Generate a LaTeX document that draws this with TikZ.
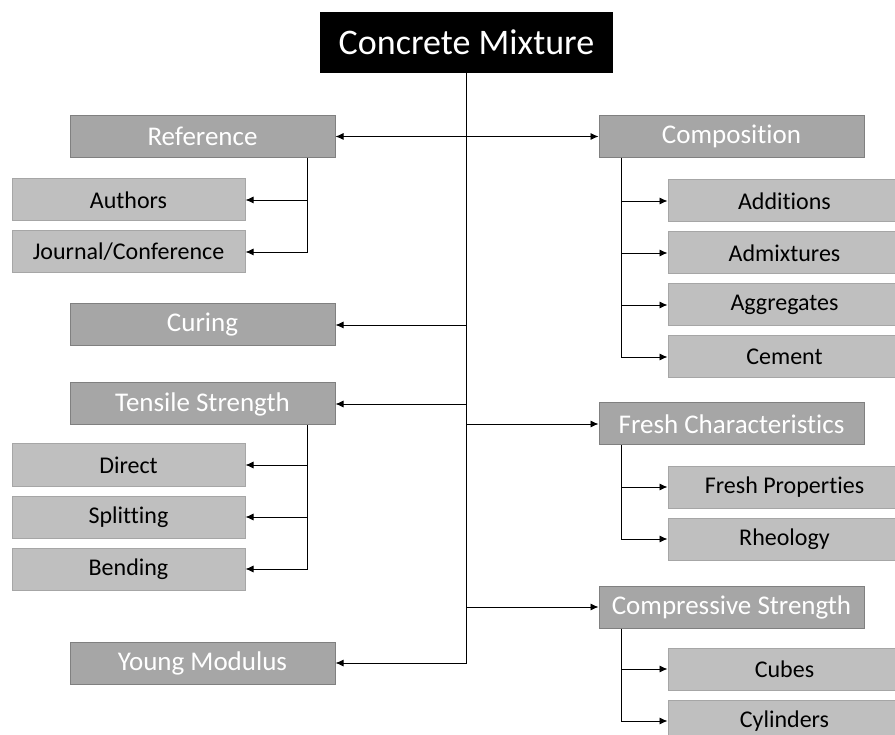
\documentclass[tikz,border=0pt]{standalone}
\usepackage{fontspec}
\setmainfont{Carlito}[Ligatures=NoCommon]
\usetikzlibrary{arrows.meta}
\definecolor{darkbox}{HTML}{A6A6A6}
\definecolor{darkline}{HTML}{808080}
\definecolor{lightbox}{HTML}{BFBFBF}
\definecolor{lightline}{HTML}{A6A6A6}
\tikzset{
  root/.style={fill=black,text=white,minimum width=293pt,minimum height=61pt,inner sep=0pt,font=\fontsize{36}{40}\selectfont},
  topic/.style={fill=darkbox,draw=darkline,line width=1pt,text=white,minimum width=265pt,minimum height=42pt,inner sep=0pt,font=\fontsize{27}{31}\selectfont},
  leaf/.style={fill=lightbox,draw=lightline,line width=1pt,text=black,minimum width=233pt,minimum height=42pt,inner sep=0pt,font=\fontsize{24}{28}\selectfont},
  link/.style={-{Latex[length=8pt,width=7pt]},line width=0.9pt}
}
\begin{document}
\begin{tikzpicture}[x=1pt,y=-1pt]
      \clip (0,0) rectangle (895,735);
      \draw
        (466.5,42.5) node[root] (root){Concrete Mixture}
        (202.5,136.5) node[topic] (ref){Reference}
        (128.5,200) node[leaf] (auth){Authors}
        (128.5,252) node[leaf] (jour){Journal/Conference}
        (202.5,325) node[topic] (cur){Curing}
        (202.5,404) node[topic] (ten){Tensile Strength}
        (128.5,465) node[leaf] (dir){Direct}
        (128.5,517) node[leaf] (spl){Splitting}
        (128.5,569) node[leaf] (ben){Bending}
        (202.5,663) node[topic] (yng){Young Modulus}
        (731.5,136.5) node[topic] (comp){Composition}
        (784.5,201) node[leaf] (add){Additions}
        (784.5,253) node[leaf] (adm){Admixtures}
        (784.5,305) node[leaf] (agg){Aggregates}
        (784.5,357) node[leaf] (cem){Cement}
        (731.5,424) node[topic] (fre){Fresh Characteristics}
        (784.5,487) node[leaf] (fp){Fresh Properties}
        (784.5,539) node[leaf] (rh){Rheology}
        (731.5,607) node[topic] (cs){Compressive Strength}
        (784.5,669) node[leaf] (cub){Cubes}
        (784.5,721) node[leaf] (cyl){Cylinders};
      \begin{scope}[line width=0.9pt]
        \draw (root.south) -- (root.south |- yng.east);
        \draw[link] (root.south |- ref.east) -- (ref.east);
        \draw[link] (root.south |- comp.west) -- (comp.west);
        \draw[link] (root.south |- cur.east) -- (cur.east);
        \draw[link] (root.south |- ten.east) -- (ten.east);
        \draw[link] (root.south |- fre.west) -- (fre.west);
        \draw[link] (root.south |- cs.west) -- (cs.west);
        \draw[link] (root.south |- yng.east) -- (yng.east);
        \draw[link] ([xshift=-28pt]ref.south east) |- (auth.east);
        \draw[link] ([xshift=-28pt]ref.south east) |- (jour.east);
        \draw[link] ([xshift=-28pt]ten.south east) |- (dir.east);
        \draw[link] ([xshift=-28pt]ten.south east) |- (spl.east);
        \draw[link] ([xshift=-28pt]ten.south east) |- (ben.east);
        \draw[link] ([xshift=23pt]comp.south west) |- (add.west);
        \draw[link] ([xshift=23pt]comp.south west) |- (adm.west);
        \draw[link] ([xshift=23pt]comp.south west) |- (agg.west);
        \draw[link] ([xshift=23pt]comp.south west) |- (cem.west);
        \draw[link] ([xshift=23pt]fre.south west) |- (fp.west);
        \draw[link] ([xshift=23pt]fre.south west) |- (rh.west);
        \draw[link] ([xshift=23pt]cs.south west) |- (cub.west);
        \draw[link] ([xshift=23pt]cs.south west) |- (cyl.west);
      \end{scope}
    \end{tikzpicture}
\end{document}
